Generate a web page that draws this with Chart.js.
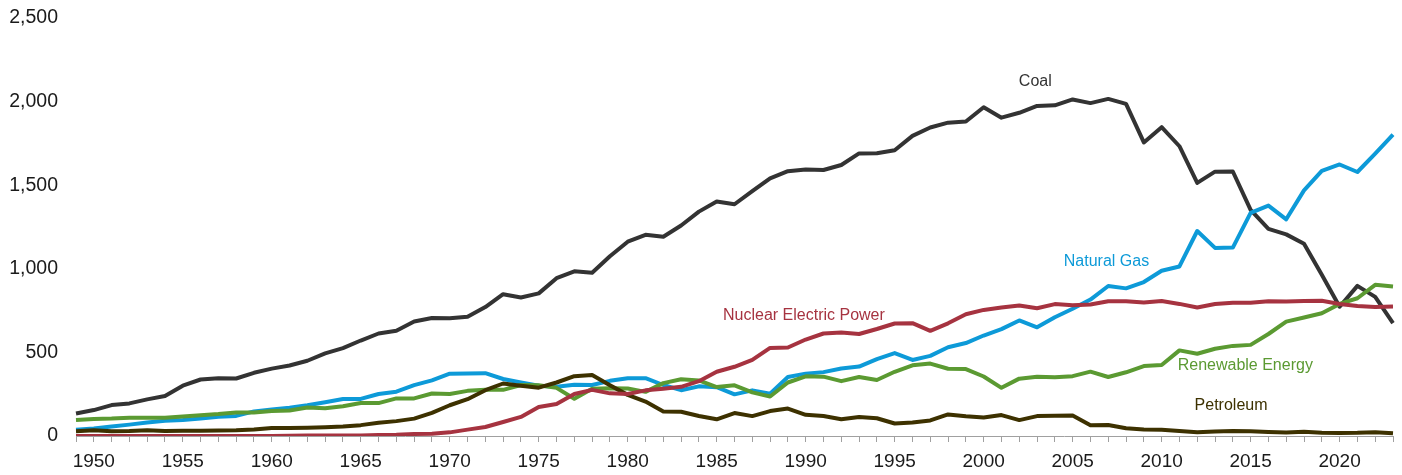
<!DOCTYPE html>
<html>
<head>
<meta charset="utf-8">
<script src="https://cdn.jsdelivr.net/npm/chart.js@4/dist/chart.umd.min.js"></script>
<style>
    html, body { margin: 0; padding: 0; background: #fff; }
    #wrap { width: 1402px; height: 475px; position: relative; }
</style>
</head>
<body>
<div id="wrap"><canvas id="energyChart"></canvas></div>
<script>
// Годы 1949–2023
const years = [];
for (let y = 1949; y <= 2023; y++) years.push(y);

const coal = [
    135, 155, 185, 195, 219, 239, 301, 338, 346, 344,
    378, 403, 422, 450, 494, 526, 571, 613, 630, 685,
    706, 704, 713, 771, 848, 828, 853, 944, 985, 976,
    1075, 1162, 1203, 1192, 1259, 1342, 1402, 1386, 1464, 1541,
    1584, 1594, 1591, 1621, 1690, 1691, 1709, 1795, 1845, 1874,
    1881, 1966, 1904, 1933, 1974, 1978, 2013, 1991, 2016, 1986,
    1756, 1847, 1733, 1514, 1581, 1582, 1352, 1239, 1206, 1150,
    965, 773, 898, 832, 675
];

const naturalGas = [
    37, 45, 57, 68, 81, 91, 95, 104, 115, 120,
    147, 158, 169, 184, 202, 221, 222, 251, 265, 304,
    333, 373, 374, 376, 341, 320, 300, 295, 306, 305,
    330, 346, 346, 305, 274, 297, 292, 249, 273, 253,
    353, 373, 382, 404, 415, 460, 496, 455, 479, 531,
    556, 601, 639, 691, 650, 710, 761, 816, 897, 883,
    921, 988, 1014, 1226, 1125, 1127, 1334, 1378, 1296, 1469,
    1586, 1624, 1579, 1689, 1802
];

const nuclear = [
    0, 0, 0, 0, 0, 0, 0, 0, 0, 0.2,
    0.2, 0.5, 1.7, 2.3, 3.2, 3.3, 3.7, 5.5, 7.7, 12.5,
    13.9, 21.8, 38, 54, 84, 114, 173, 191, 251, 276,
    255, 251, 273, 283, 294, 328, 384, 414, 455, 527,
    529, 577, 613, 619, 610, 640, 673, 675, 629, 674,
    728, 754, 769, 780, 764, 789, 782, 787, 806, 806,
    799, 807, 790, 769, 789, 797, 797, 806, 805, 807,
    809, 790, 778, 772, 775
];

const renewable = [
    95, 102, 104, 109, 109, 109, 117, 124, 131, 141,
    140, 149, 153, 170, 166, 178, 197, 197, 225, 225,
    254, 251, 270, 276, 276, 305, 303, 288, 223, 283,
    285, 284, 264, 316, 339, 332, 293, 303, 261, 236,
    320, 357, 355, 328, 353, 335, 384, 423, 433, 402,
    400, 356, 288, 343, 355, 352, 358, 385, 353, 381,
    418, 425, 512, 492, 522, 539, 545, 610, 684, 709,
    734, 790, 824, 904, 894
];

const petroleum = [
    29, 34, 29, 30, 35, 30, 31, 31, 33, 34,
    39, 48, 48, 49, 52, 57, 65, 79, 89, 104,
    138, 184, 220, 274, 314, 301, 289, 320, 358, 365,
    304, 246, 206, 147, 145, 120, 100, 137, 119, 149,
    164, 127, 120, 100, 113, 106, 75, 81, 93, 129,
    118, 111, 125, 95, 119, 121, 122, 64, 66, 46,
    39, 37, 30, 23, 27, 30, 28, 24, 21, 25,
    19, 18, 19, 23, 16
];

const yTicks = [0, 500, 1000, 1500, 2000, 2500];

// Подписи линий: год, значение, текст, цвет
const lineLabels = [
    { year: 2002.9, value: 2121, text: 'Coal', color: '#333333' },
    { year: 2006.9, value: 1045, text: 'Natural Gas', color: '#0d9ad8' },
    { year: 1989.9, value: 723, text: 'Nuclear Electric Power', color: '#a63340' },
    { year: 2014.7, value: 420, text: 'Renewable Energy', color: '#5b9a32' },
    { year: 2013.9, value: 179, text: 'Petroleum', color: '#3d3100' }
];

const FONT = '"Liberation Sans", Arial, sans-serif';

const labelPlugin = {
    id: 'lineLabels',
    afterDatasetsDraw(chart) {
        const { ctx, scales: { x, y } } = chart;
        ctx.save();
        ctx.font = '16px ' + FONT;
        ctx.textAlign = 'center';
        ctx.textBaseline = 'middle';
        lineLabels.forEach(l => {
            ctx.fillStyle = l.color;
            ctx.fillText(l.text, x.getPixelForValue(l.year - years[0]), y.getPixelForValue(l.value));
        });
        ctx.restore();
    }
};

function makeSet(data, color) {
    return {
        data,
        borderColor: color,
        backgroundColor: color,
        borderWidth: 4,
        pointRadius: 0,
        tension: 0,
        borderJoinStyle: 'round',
        fill: false
    };
}

const ctx = document.getElementById('energyChart').getContext('2d');
new Chart(ctx, {
    type: 'line',
    data: {
        labels: years,
        datasets: [
            makeSet(nuclear, '#a63340'),
            makeSet(petroleum, '#3d3100'),
            makeSet(renewable, '#5b9a32'),
            makeSet(naturalGas, '#0d9ad8'),
            makeSet(coal, '#333333')
        ]
    },
    options: {
        responsive: true,
        maintainAspectRatio: false,
        animation: false,
        layout: { padding: { top: 18, right: 9, left: 0, bottom: 0 } },
        plugins: {
            legend: { display: false },
            tooltip: { enabled: false }
        },
        scales: {
            x: {
                type: 'category',
                offset: false,
                afterFit: s => { s.height = 39; },
                border: { display: true, color: '#a0a0a0', width: 1 },
                grid: {
                    display: true,
                    drawOnChartArea: false,
                    drawTicks: true,
                    tickLength: 6,
                    color: '#a0a0a0',
                    offset: false
                },
                ticks: {
                    autoSkip: false,
                    maxRotation: 0,
                    padding: 8,
                    color: '#1a1a1a',
                    font: { family: FONT, size: 19 },
                    callback: (v, i) => (years[i] % 5 === 0 ? String(years[i]) : '')
                }
            },
            y: {
                min: 0,
                max: 2500,
                afterFit: s => { s.width = 76; },
                afterBuildTicks: s => { s.ticks = yTicks.map(v => ({ value: v })); },
                border: { display: false },
                // невидимые засечки дают отступ подписей без лишнего отступа сверху
                grid: { display: true, drawOnChartArea: false, drawTicks: true, tickLength: 18, color: 'rgba(0,0,0,0)' },
                ticks: {
                    padding: 0,
                    color: '#1a1a1a',
                    font: { family: FONT, size: 19.5 },
                    callback: v => v.toLocaleString('en-US')
                }
            }
        }
    },
    plugins: [labelPlugin]
});
</script>
</body>
</html>
